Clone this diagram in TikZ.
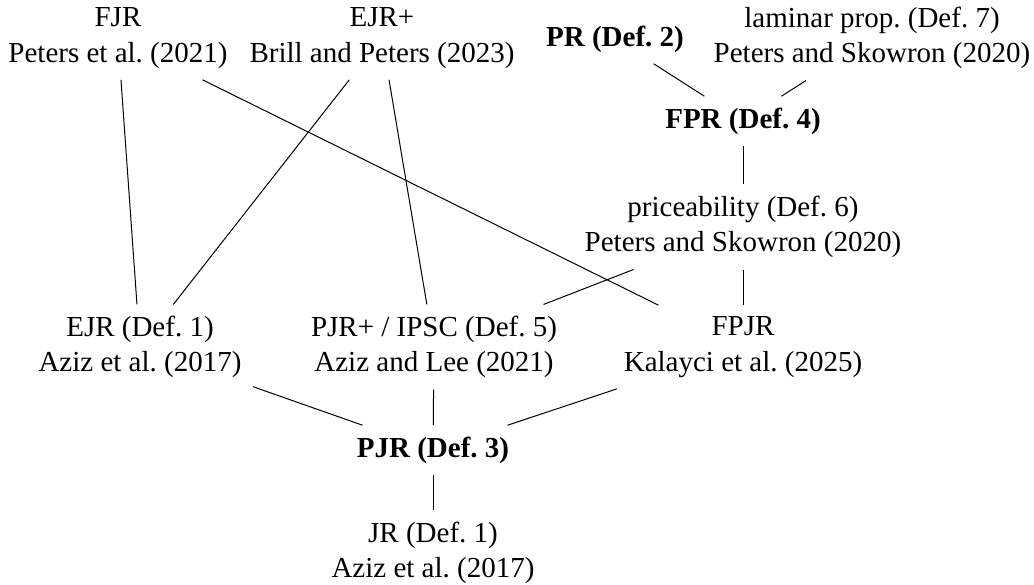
\documentclass[tikz,border=0pt]{standalone}
\usepackage{fontspec}
\setmainfont{Liberation Serif}
\begin{document}
\frenchspacing
\begin{tikzpicture}[x=0.4pt,y=-0.4pt,
  prop/.style={align=center,inner sep=4.4pt,font=\fontsize{11.6}{14.2}\selectfont},
  link/.style={line width=0.4pt}]
\useasboundingbox (0,0) rectangle (1034,585);
\node[prop] (fjr) at (118,38) {FJR\\Peters et al. (2021)};
\node[prop] (ejrp) at (382,38) {EJR+\\Brill and Peters (2023)};
\node[prop] (pr) at (615,39) {\textbf{PR (Def. 2)}};
\node[prop] (lam) at (872,38) {laminar prop. (Def. 7)\\Peters and Skowron (2020)};
\node[prop] (fpr) at (743,121) {\textbf{FPR (Def. 4)}};
\node[prop] (price) at (743,227) {priceability (Def. 6)\\Peters and Skowron (2020)};
\node[prop] (ejr) at (140,347) {EJR (Def. 1)\\Aziz et al. (2017)};
\node[prop] (pjrp) at (434,347) {PJR+ / IPSC (Def. 5)\\Aziz and Lee (2021)};
\node[prop] (fpjr) at (743,347) {FPJR\\Kalayci et al. (2025)};
\node[prop] (pjr) at (433,450) {\textbf{PJR (Def. 3)}};
\node[prop] (jr) at (433,553) {JR (Def. 1)\\Aziz et al. (2017)};
\draw[link] (fjr) -- (ejr);
\draw[link] (fjr) -- (fpjr);
\draw[link] (ejrp) -- (ejr);
\draw[link] (ejrp) -- (pjrp);
\draw[link] (pr) -- (fpr);
\draw[link] (lam) -- (fpr);
\draw[link] (fpr) -- (price);
\draw[link] (price) -- (pjrp);
\draw[link] (price) -- (fpjr);
\draw[link] (ejr) -- (pjr);
\draw[link] (pjrp) -- (pjr);
\draw[link] (fpjr) -- (pjr);
\draw[link] (pjr) -- (jr);
\end{tikzpicture}
\end{document}
